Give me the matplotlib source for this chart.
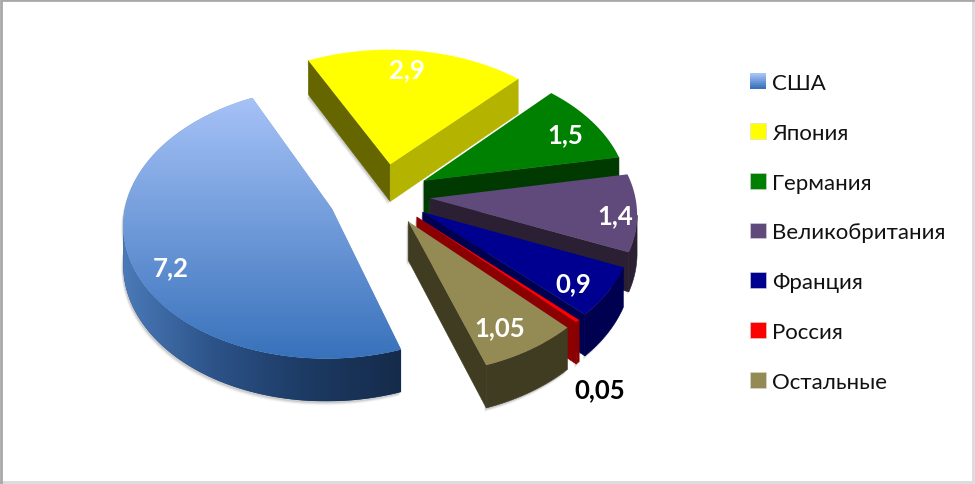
import numpy as np
import matplotlib
matplotlib.use("Agg")
import matplotlib.pyplot as plt
from matplotlib.patches import Polygon, Patch, Rectangle
from matplotlib.legend_handler import HandlerBase
from matplotlib.colors import LinearSegmentedColormap

categories = ["США", "Япония", "Германия", "Великобритания", "Франция", "Россия", "Остальные"]
values = [7.2, 2.9, 1.5, 1.4, 0.9, 0.05, 1.05]
value_labels = ["7,2", "2,9", "1,5", "1,4", "0,9", "0,05", "1,05"]

# styles
top_colors = ["#6f97d6", "#ffff00", "#008000", "#604a7b", "#000090", "#ff0000", "#948a54"]
start_wall = ["#1f3f6e", "#666600", "#003a00", "#2a1f33", "#000050", "#8b0000", "#403c22"]
arc_wall = ["#1f3f6e", "#b3b300", "#003a00", "#2a1f33", "#000050", "#8b0000", "#403c22"]
end_wall = ["#1f3f6e", "#b3b300", "#003a00", "#2a1f33", "#000050", "#8b0000", "#403c22"]
explode = [0.267, 0.24, 0.23, 0.23, 0.23, 0.23, 0.23]
label_xy = [(171, 268), (407, 70), (565, 135), (615, 216), (573, 284), (600, 390), (500, 328)]
label_color = ["white", "white", "white", "white", "white", "black", "white"]
START = 289.0
CX, CY, RX, RY, P, DEPTH = 383.0, 196.0, 205.0, 132.0, 0.10, 38.0

plt.rcParams["font.family"] = ["Lato", "Open Sans", "DejaVu Sans"]

fig = plt.figure(figsize=(9.75, 4.85), dpi=100, facecolor="white")
ax = fig.add_axes([0, 0, 1, 1])
ax.set_xlim(0, 975)
ax.set_ylim(485, 0)
ax.axis("off")


def project(u, v):
    s = 1.0 / (1.0 + P * v)
    return CX + RX * u * s, CY - RY * v * s, s


fractions = np.array(values) / np.sum(values)
edges = START - 360.0 * np.concatenate([[0], np.cumsum(fractions)])
usa_top = LinearSegmentedColormap.from_list("t", ["#a6c2f7", "#3872bb"])
usa_side = LinearSegmentedColormap.from_list("s", ["#4a7ab8", "#2c5288", "#1c3a63", "#152b4b"])

draw_order = [1, 2, 3, 4, 5, 6, 0]
for z, i in enumerate(draw_order):
    a0, a1 = edges[i], edges[i + 1]
    mid = np.radians((a0 + a1) / 2)
    au, av = explode[i] * np.cos(mid), explode[i] * np.sin(mid)
    n = max(int(abs(a0 - a1) * 1.5), 3)
    t = np.radians(np.linspace(a0, a1, n))
    us = np.concatenate([[au], au + np.cos(t)])
    vs = np.concatenate([[av], av + np.sin(t)])
    x, y, s = project(us, vs)
    base = 10 + z * 5
    yb = y + DEPTH * s

    # soft shadow below the body
    bx = np.concatenate([x, x[::-1]])
    by = np.concatenate([yb, y[::-1]])
    for k, al in zip((4, 3, 2), (0.06, 0.10, 0.16)):
        ax.add_patch(Polygon(np.c_[bx - k * 0.5, by + k], closed=True, fc="#555555",
                             ec="none", alpha=al, zorder=base))

    # radial walls facing the viewer
    m = len(x)
    if x[1] < x[0]:
        ax.add_patch(Polygon([(x[0], y[0]), (x[1], y[1]), (x[1], yb[1]), (x[0], yb[0])], closed=True,
                             fc=start_wall[i], ec=start_wall[i], lw=0.4, zorder=base + 1))
    if x[0] < x[-1]:
        ax.add_patch(Polygon([(x[-1], y[-1]), (x[0], y[0]), (x[0], yb[0]), (x[-1], yb[-1])], closed=True,
                             fc=end_wall[i], ec=end_wall[i], lw=0.4, zorder=base + 1))

    # outer wall: the run of the arc that faces the viewer
    idx = [j for j in range(1, m - 1) if x[j + 1] < x[j]]
    if idx:
        run = np.array(idx + [idx[-1] + 1])
        pts = np.c_[np.concatenate([x[run], x[run][::-1]]), np.concatenate([y[run], yb[run][::-1]])]
        wall = Polygon(pts, closed=True, fc=arc_wall[i], ec=arc_wall[i] if i else "none", lw=0.4, zorder=base + 1)
        ax.add_patch(wall)
        if i == 0:
            grad = np.linspace(0, 1, 256).reshape(1, -1)
            im = ax.imshow(grad, cmap=usa_side, aspect="auto", zorder=base + 1.5,
                           extent=(pts[:, 0].min(), pts[:, 0].max(), pts[:, 1].max(), pts[:, 1].min()),
                           interpolation="bilinear")
            im.set_clip_path(wall)

    # top face
    poly = Polygon(np.c_[x, y], closed=True, fc=top_colors[i], ec="none", zorder=base + 2)
    ax.add_patch(poly)
    if i == 0:
        grad = np.linspace(0, 1, 256).reshape(-1, 1)
        im = ax.imshow(grad, cmap=usa_top, aspect="auto", zorder=base + 3,
                       extent=(x.min(), x.max(), y.max(), y.min()), interpolation="bilinear")
        im.set_clip_path(poly)
    ax.set_xlim(0, 975)
    ax.set_ylim(485, 0)

for lab, (lx, ly), col in zip(value_labels, label_xy, label_color):
    ax.text(lx, ly, lab, color=col, fontsize=18.5, fontweight="bold", ha="center", va="center", zorder=100)


class GradHandler(HandlerBase):
    def create_artists(self, legend, orig, xd, yd, w, h, fs, trans):
        out = []
        for q in range(8):
            c = usa_top(q / 7)
            out.append(Rectangle((-xd, -yd + h * (7 - q) / 8), w, h / 8 + 0.3, fc=c, ec="none", transform=trans))
        return out


handles = [Patch(fc=c, ec="#d8d8d8", lw=0.4) for c in top_colors]
hmap = {handles[0]: GradHandler()}
leg = ax.legend(handles, categories, handler_map=hmap, loc="upper left", bbox_to_anchor=(750 / 975, 1 - 74 / 485),
                frameon=False, fontsize=16, labelspacing=1.34, handlelength=0.72, handleheight=0.72,
                handletextpad=0.28, borderpad=0, borderaxespad=0)
for txt in leg.get_texts():
    txt.set_color("#111111")

# frame
ax.plot([1, 1, 973], [484, 1, 1], color="#a8a8a8", lw=2, zorder=200, solid_joinstyle="miter")
ax.plot([973, 973, 1], [1, 483, 483], color="#dadada", lw=2, zorder=199, solid_joinstyle="miter")

fig.savefig("out.png", dpi=100, facecolor="white")
